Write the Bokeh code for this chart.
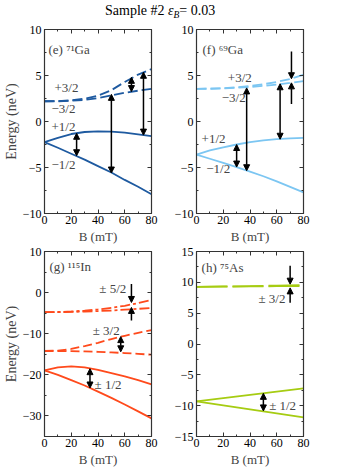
from bokeh.plotting import figure
from bokeh.models import (Range1d, LinearAxis, FixedTicker, Label, Arrow,
                          NormalHead, ColumnDataSource, Div)
from bokeh.layouts import column, row
from bokeh.embed import file_html
from bokeh.resources import INLINE

FONT = "Liberation Serif"

# ---------------- data ----------------
B = [0, 10, 20, 30, 40, 50, 60, 70, 80]

# (e) 71Ga
ga71_p12 = [-2.25, -1.77, -1.36, -1.14, -1.07, -1.11, -1.22, -1.40, -1.58]
ga71_m12 = [-2.25, -2.85, -3.50, -4.15, -4.85, -5.55, -6.35, -7.10, -7.90]
ga71_p32 = [2.20, 2.22, 2.30, 2.48, 2.80, 3.40, 4.30, 5.10, 5.70]
ga71_m32 = [2.20, 2.20, 2.25, 2.35, 2.55, 2.83, 3.12, 3.35, 3.55]
ga71_arr_B = [24, 50, 65, 74]
ga71_arr_E1 = [-1.28, -5.60, 4.80, 5.35]
ga71_arr_E2 = [-3.72, 2.95, 3.25, -1.48]

# (f) 69Ga
ga69_p12 = [-3.60, -3.15, -2.80, -2.50, -2.25, -2.05, -1.92, -1.83, -1.78]
ga69_m12 = [-3.60, -4.05, -4.50, -4.95, -5.45, -5.95, -6.50, -7.10, -7.70]
ga69_p32 = [3.55, 3.57, 3.62, 3.72, 3.86, 4.05, 4.30, 4.62, 5.07]
ga69_m32 = [3.55, 3.56, 3.60, 3.66, 3.75, 3.87, 4.02, 4.20, 4.40]
ga69_arr_B = [30, 37.5, 62.5]
ga69_arr_E1 = [-2.50, 3.65, 4.10]
ga69_arr_E2 = [-4.95, -5.35, -1.93]
ga69_one_B = [71, 71]
ga69_one_E1 = [7.6, 1.9]
ga69_one_E2 = [4.65, 4.2]

# (g) 115In
in_p12 = [-18.9, -18.2, -17.95, -18.2, -18.8, -19.6, -20.4, -21.3, -22.3]
in_m12 = [-18.9, -20.0, -21.3, -22.6, -24.1, -25.6, -27.2, -28.9, -30.6]
in_p32 = [-14.2, -14.1, -13.7, -13.0, -12.2, -11.3, -10.5, -9.8, -9.1]
in_m32 = [-14.2, -14.2, -14.25, -14.3, -14.4, -14.55, -14.7, -14.9, -15.1]
in_p52 = [-4.77, -4.72, -4.60, -4.40, -4.10, -3.70, -3.20, -2.55, -1.80]
in_m52 = [-4.77, -4.75, -4.70, -4.60, -4.50, -4.35, -4.15, -3.95, -3.75]
in_arr_B = [34, 57]
in_arr_E1 = [-18.5, -10.7]
in_arr_E2 = [-23.2, -14.4]
in_one_B = [65, 65]
in_one_E1 = [2.1, -6.8]
in_one_E2 = [-2.4, -3.6]

# (h) 75As
as_B = [0, 20, 40, 60, 80]
as_p12 = [-9.30, -8.78, -8.25, -7.72, -7.20]
as_m12 = [-9.30, -9.95, -10.60, -11.25, -11.90]
as_p32 = [9.27, 9.33, 9.40, 9.47, 9.55]
as_m32 = [9.27, 9.30, 9.33, 9.37, 9.40]
as_arr_B = [50]
as_arr_E1 = [-8.0]
as_arr_E2 = [-10.85]
as_one_B = [70, 70]
as_one_E1 = [12.7, 6.7]
as_one_E2 = [9.7, 9.1]

x_ticks = [0, 20, 40, 60, 80]
x_minor = [10, 30, 50, 70]
y_ticks_ga = [-10, -5, 0, 5, 10]
y_minor_ga = [-7.5, -2.5, 2.5, 7.5]
y_ticks_in = [-30, -20, -10, 0, 10]
y_minor_in = [-35, -25, -15, -5, 5]
y_ticks_as = [-15, -10, -5, 0, 5, 10, 15]
y_minor_as = [-12.5, -7.5, -2.5, 2.5, 7.5, 12.5]

C_E = "#1e5aa0"
C_F = "#7cc6f2"
C_G = "#ff4a1c"
C_H = "#a6cc12"
AXC = "#333333"


def lab(v):
    return str(v).replace("-", "\u2212")


def style_axis(ax, ticker, labels=True):
    ax.ticker = ticker
    ax.major_tick_in = 4
    ax.major_tick_out = 0
    ax.minor_tick_in = 2
    ax.minor_tick_out = 0
    ax.axis_line_color = AXC
    ax.major_tick_line_color = AXC
    ax.minor_tick_line_color = AXC
    ax.axis_line_width = 1.2
    if labels:
        ax.major_label_standoff = 2
        ax.major_label_text_font = FONT
        ax.major_label_text_font_size = "12px"
        ax.major_label_text_color = "black"
        ax.major_label_overrides = {t: lab(t) for t in ticker.ticks}
    else:
        ax.major_label_text_font_size = "0px"
        ax.major_label_text_color = None
        ax.major_label_standoff = 0


def panel(ymin, ymax, yt, ym, left, top_row):
    p = figure(frame_width=107, frame_height=184 if top_row else 185,
               x_range=Range1d(0, 80), title=None,
               y_range=Range1d(ymin, ymax), output_backend="svg",
               toolbar_location=None,
               min_border_left=37, min_border_right=8,
               min_border_top=7 if top_row else 5, min_border_bottom=31)
    p.grid.visible = False
    p.outline_line_color = AXC
    xt = FixedTicker(ticks=x_ticks, minor_ticks=x_minor)
    ytk = FixedTicker(ticks=yt, minor_ticks=ym)
    style_axis(p.xaxis[0], xt)
    style_axis(p.yaxis[0], ytk)
    p.yaxis[0].major_label_standoff = 3
    xa = p.xaxis[0]
    xa.axis_label = "B (mT)"
    xa.axis_label_text_font = FONT
    xa.axis_label_text_font_size = "13px"
    xa.axis_label_text_font_style = "normal"
    xa.axis_label_standoff = 2
    if left:
        ya = p.yaxis[0]
        ya.axis_label = "Energy (neV)"
        ya.axis_label_text_font = FONT
        ya.axis_label_text_font_size = "14px"
        ya.axis_label_text_font_style = "normal"
        ya.axis_label_standoff = 1
    ra = LinearAxis()
    style_axis(ra, FixedTicker(ticks=yt, minor_ticks=ym), labels=False)
    p.add_layout(ra, "right")
    ta = LinearAxis()
    style_axis(ta, FixedTicker(ticks=x_ticks, minor_ticks=x_minor), labels=False)
    p.add_layout(ta, "above")
    return p


def txt(p, x, y, s, size="13px"):
    p.add_layout(Label(x=x, y=y, text=s, text_font=FONT, text_font_size=size,
                       text_baseline="middle", text_align="left"))


def arrows(p, bs, e1, e2, double=True):
    src = ColumnDataSource(dict(x0=bs, y0=e1, x1=bs, y1=e2))
    end = NormalHead(size=6, fill_color="black", line_color="black", line_width=1)
    start = NormalHead(size=6, fill_color="black", line_color="black",
                       line_width=1) if double else None
    p.add_layout(Arrow(x_start="x0", y_start="y0", x_end="x1", y_end="y1",
                       source=src, start=start, end=end,
                       line_color="black", line_width=1.5))


# (e)
pe = panel(-10, 10, y_ticks_ga, y_minor_ga, True, True)
pe.line(B, ga71_p12, line_color=C_E, line_width=1.8)
pe.line(B, ga71_m12, line_color=C_E, line_width=1.8)
pe.line(B, ga71_p32, line_color=C_E, line_width=1.8, line_dash="10 4")
pe.line(B, ga71_m32, line_color=C_E, line_width=1.8, line_dash="10 4")
arrows(pe, ga71_arr_B, ga71_arr_E1, ga71_arr_E2)
txt(pe, 3, 7.85, "(e) \u2077\u00b9Ga")
txt(pe, 7.5, 3.7, "+3/2")
txt(pe, 5.2, 1.4, "\u22123/2")
txt(pe, 5.2, -0.5, "+1/2")
txt(pe, 5.2, -4.7, "\u22121/2")

# (f)
pf = panel(-10, 10, y_ticks_ga, y_minor_ga, False, True)
pf.line(B, ga69_p12, line_color=C_F, line_width=1.8)
pf.line(B, ga69_m12, line_color=C_F, line_width=1.8)
pf.line(B, ga69_p32, line_color=C_F, line_width=1.8, line_dash="10 4")
pf.line(B, ga69_m32, line_color=C_F, line_width=1.8, line_dash="10 4")
arrows(pf, ga69_arr_B, ga69_arr_E1, ga69_arr_E2)
arrows(pf, ga69_one_B, ga69_one_E1, ga69_one_E2, double=False)
txt(pf, 4.5, 7.85, "(f) \u2076\u2079Ga")
txt(pf, 23.4, 4.8, "+3/2")
txt(pf, 18.9, 2.6, "\u22123/2")
txt(pf, 3.8, -1.85, "+1/2")
txt(pf, 7.3, -5.1, "\u22121/2")

# (g)
pg = panel(-35, 10, y_ticks_in, y_minor_in, True, False)
pg.line(B, in_p12, line_color=C_G, line_width=1.8)
pg.line(B, in_m12, line_color=C_G, line_width=1.8)
pg.line(B, in_p32, line_color=C_G, line_width=1.8, line_dash="9 4")
pg.line(B, in_m32, line_color=C_G, line_width=1.8, line_dash="9 4")
pg.line(B, in_p52, line_color=C_G, line_width=1.8, line_dash="10 3 3 3")
pg.line(B, in_m52, line_color=C_G, line_width=1.8, line_dash="10 3 3 3")
arrows(pg, in_arr_B, in_arr_E1, in_arr_E2)
arrows(pg, in_one_B, in_one_E1, in_one_E2, double=False)
txt(pg, 3.7, 6.3, "(g) \u00b9\u00b9\u2075In")
txt(pg, 41, 0.9, "\u00b1 5/2")
txt(pg, 36, -9.1, "\u00b1 3/2")
txt(pg, 37.4, -22.3, "\u00b1 1/2")

# (h)
ph = panel(-15, 15, y_ticks_as, y_minor_as, False, False)
ph.line(as_B, as_p12, line_color=C_H, line_width=1.8)
ph.line(as_B, as_m12, line_color=C_H, line_width=1.8)
ph.line(as_B, as_p32, line_color=C_H, line_width=1.8, line_dash="31 5")
ph.line(as_B, as_m32, line_color=C_H, line_width=1.8, line_dash="31 5")
arrows(ph, as_arr_B, as_arr_E1, as_arr_E2)
arrows(ph, as_one_B, as_one_E1, as_one_E2, double=False)
txt(ph, 3.8, 12.4, "(h) \u2077\u2075As")
txt(ph, 46.3, 7.4, "\u00b1 3/2")
txt(ph, 54.3, -10.0, "\u00b1 1/2")

# title
title_html = ('<div style="font-family:\'Liberation Serif\';font-size:14px;'
              'line-height:22px;white-space:nowrap;padding-left:105px;'
              'color:black;margin:0">'
              'Sample #2 <i>\u03b5<span style="font-size:9.5px;position:relative;'
              'top:3px">B</span></i>= 0.03</div>')
pt = Div(text=title_html, width=304, height=22, margin=0)

layout = column(pt, row(pe, pf), row(pg, ph))
open("out.html", "w").write(file_html(layout, INLINE))
